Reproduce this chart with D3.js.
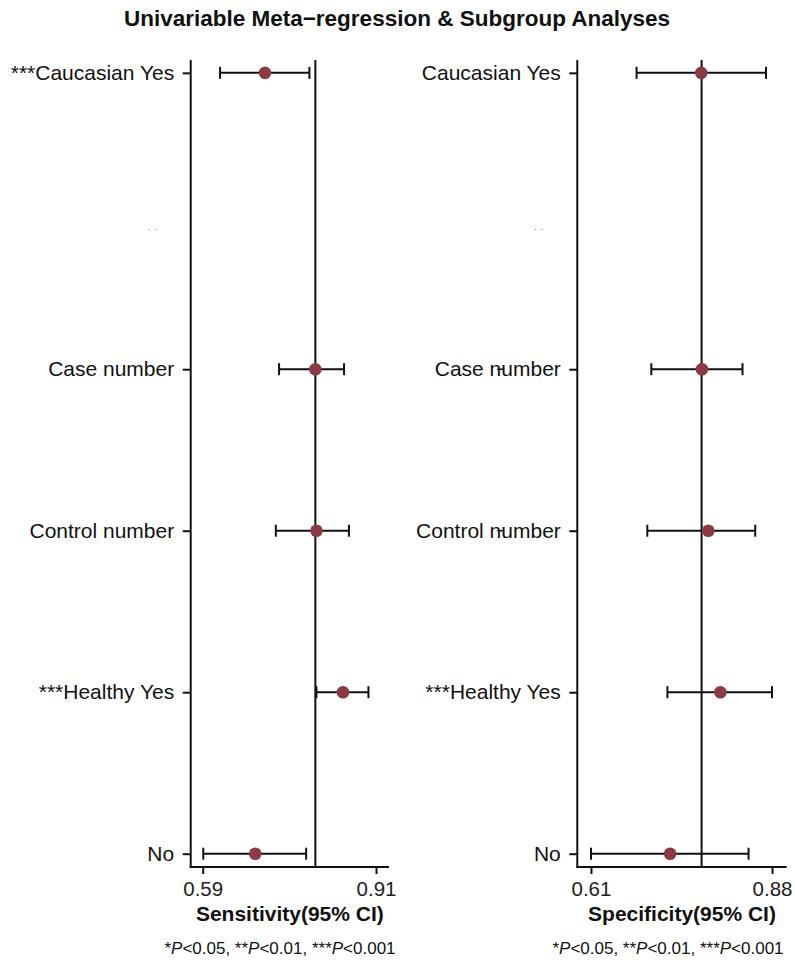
<!DOCTYPE html>
<html>
<head>
<meta charset="utf-8">
<script src="https://cdn.jsdelivr.net/npm/d3@7"></script>
<style>
  html, body { margin: 0; padding: 0; background: #fff; }
  svg { display: block; font-family: "Liberation Sans", Arial, Helvetica, sans-serif; }
</style>
</head>
<body>
<svg id="chart" width="795" height="962"></svg>
<script>
// Subgroup rows, top to bottom (row value on the category axis)
const rowValues = [4.835, 3.875, 3, 2, 1, 0];

// Sensitivity panel
const sensLabels = ["***Caucasian Yes", "..", "Case number", "Control number", "***Healthy Yes", "No"];
const sensEst = [0.705, null, 0.798, 0.800, 0.849, 0.687];
const sensLow = [0.622, null, 0.731, 0.725, 0.800, 0.591];
const sensHigh = [0.787, null, 0.851, 0.860, 0.896, 0.781];
const sensPooled = 0.798;
const sensTicks = [0.59, 0.91];

// Specificity panel
const specLabels = ["Caucasian Yes", "..", "Case number", "Control number", "***Healthy Yes", "No"];
const specEst = [0.7745, null, 0.7755, 0.785, 0.803, 0.728];
const specLow = [0.678, null, 0.700, 0.694, 0.724, 0.610];
const specHigh = [0.871, null, 0.836, 0.855, 0.880, 0.845];
const specPooled = 0.775;
const specTicks = [0.61, 0.88];

const title = "Univariable Meta\u2212regression & Subgroup Analyses";

const svg = d3.select("#chart");
svg.append("rect").attr("width", 795).attr("height", 962).attr("fill", "#fff");

svg.append("text")
  .attr("x", 397).attr("y", 26)
  .attr("text-anchor", "middle")
  .attr("font-size", 22.5).attr("font-weight", "bold").attr("fill", "#111")
  .text(title);

const plotTop = 60, plotBottom = 867;
const y = d3.scaleLinear().domain([0, 5]).range([853.7, 46.2]);
const pointColor = "#8b3942";

function drawPanel(cfg) {
  const x = d3.scaleLinear().domain(cfg.domain).range([cfg.left, cfg.right]);
  const g = svg.append("g");

  const rows = rowValues.map((r, i) => ({
    r, label: cfg.labels[i], est: cfg.est[i], lo: cfg.low[i], hi: cfg.high[i]
  }));

  // pooled estimate reference line
  g.append("line")
    .attr("x1", x(cfg.pooled)).attr("x2", x(cfg.pooled))
    .attr("y1", plotTop).attr("y2", plotBottom)
    .attr("stroke", "#111").attr("stroke-width", 2);

  // y axis with subgroup labels
  const labelled = rows.filter(d => d.label !== "..");
  const yAxis = d3.axisLeft(y)
    .tickValues(labelled.map(d => d.r))
    .tickSize(8).tickPadding(8.5)
    .tickFormat(v => labelled.find(d => d.r === v).label);
  const ya = g.append("g").attr("transform", `translate(${cfg.left},0)`).call(yAxis);
  ya.select(".domain").remove();
  ya.selectAll(".tick line").attr("stroke", "#111").attr("stroke-width", 2);
  ya.selectAll(".tick text").attr("font-size", 21).attr("fill", "#111")
    .attr("font-family", "Liberation Sans, Arial, sans-serif");
  g.append("line")
    .attr("x1", cfg.left).attr("x2", cfg.left)
    .attr("y1", plotTop).attr("y2", plotBottom + 1)
    .attr("stroke", "#111").attr("stroke-width", 2);

  // near-empty row label
  rows.filter(d => d.label === "..").forEach(d => {
    g.append("text")
      .attr("x", cfg.left - 30).attr("y", y(d.r) + 2)
      .attr("text-anchor", "end")
      .attr("font-size", 9).attr("fill", "#777")
      .attr("letter-spacing", 4)
      .text("..");
  });

  // x axis
  const xAxis = d3.axisBottom(x).tickValues(cfg.ticks).tickSize(7).tickPadding(7)
    .tickFormat(d3.format(".2f"));
  const xa = g.append("g").attr("transform", `translate(0,${plotBottom})`).call(xAxis);
  xa.select(".domain").remove();
  xa.selectAll(".tick line").attr("stroke", "#111").attr("stroke-width", 2);
  xa.selectAll(".tick text").attr("font-size", 20.5).attr("fill", "#222")
    .attr("font-family", "Liberation Sans, Arial, sans-serif");
  g.append("line")
    .attr("x1", cfg.left - 1).attr("x2", cfg.right)
    .attr("y1", plotBottom).attr("y2", plotBottom)
    .attr("stroke", "#111").attr("stroke-width", 2);

  // confidence intervals
  const est = rows.filter(d => d.est !== null);
  const capH = 6;
  const ci = g.append("g").attr("stroke", "#111").attr("stroke-width", 2);
  ci.selectAll("line.ci").data(est).join("line").attr("class", "ci")
    .attr("x1", d => x(d.lo)).attr("x2", d => x(d.hi))
    .attr("y1", d => y(d.r)).attr("y2", d => y(d.r));
  ci.selectAll("line.capl").data(est).join("line").attr("class", "capl")
    .attr("x1", d => x(d.lo)).attr("x2", d => x(d.lo))
    .attr("y1", d => y(d.r) - capH).attr("y2", d => y(d.r) + capH);
  ci.selectAll("line.caph").data(est).join("line").attr("class", "caph")
    .attr("x1", d => x(d.hi)).attr("x2", d => x(d.hi))
    .attr("y1", d => y(d.r) - capH).attr("y2", d => y(d.r) + capH);

  // point estimates
  g.selectAll("circle.pt").data(est).join("circle").attr("class", "pt")
    .attr("cx", d => x(d.est)).attr("cy", d => y(d.r)).attr("r", 6.3)
    .attr("fill", pointColor);

  // small stray dashes drawn over two labels in this panel
  (cfg.dashRows || []).forEach(i => {
    g.append("line")
      .attr("x1", cfg.left - 80).attr("x2", cfg.left - 73)
      .attr("y1", y(rowValues[i])).attr("y2", y(rowValues[i]))
      .attr("stroke", "#111").attr("stroke-width", 1.5);
  });

  // axis title
  g.append("text")
    .attr("x", (cfg.left + cfg.right) / 2).attr("y", 921)
    .attr("text-anchor", "middle")
    .attr("font-size", 21).attr("font-weight", "bold").attr("fill", "#111")
    .text(cfg.xTitle);

  // significance note
  const note = g.append("text")
    .attr("x", cfg.noteX).attr("y", 954)
    .attr("text-anchor", "middle")
    .attr("font-size", 17).attr("fill", "#111");
  [["*", false], ["P", true], ["<0.05, **", false], ["P", true], ["<0.01, ***", false], ["P", true], ["<0.001", false]]
    .forEach(([t, it]) => note.append("tspan").attr("font-style", it ? "italic" : "normal").text(t));
}

drawPanel({
  left: 190.7, right: 389,
  domain: [0.5678, 0.934],
  labels: sensLabels, est: sensEst, low: sensLow, high: sensHigh,
  pooled: sensPooled, ticks: sensTicks,
  xTitle: "Sensitivity(95% CI)", noteX: 280
});

drawPanel({
  left: 577.3, right: 786.7,
  domain: [0.5896, 0.9019],
  labels: specLabels, est: specEst, low: specLow, high: specHigh,
  pooled: specPooled, ticks: specTicks,
  xTitle: "Specificity(95% CI)", noteX: 668,
  dashRows: [2, 3]
});
</script>
</body>
</html>
